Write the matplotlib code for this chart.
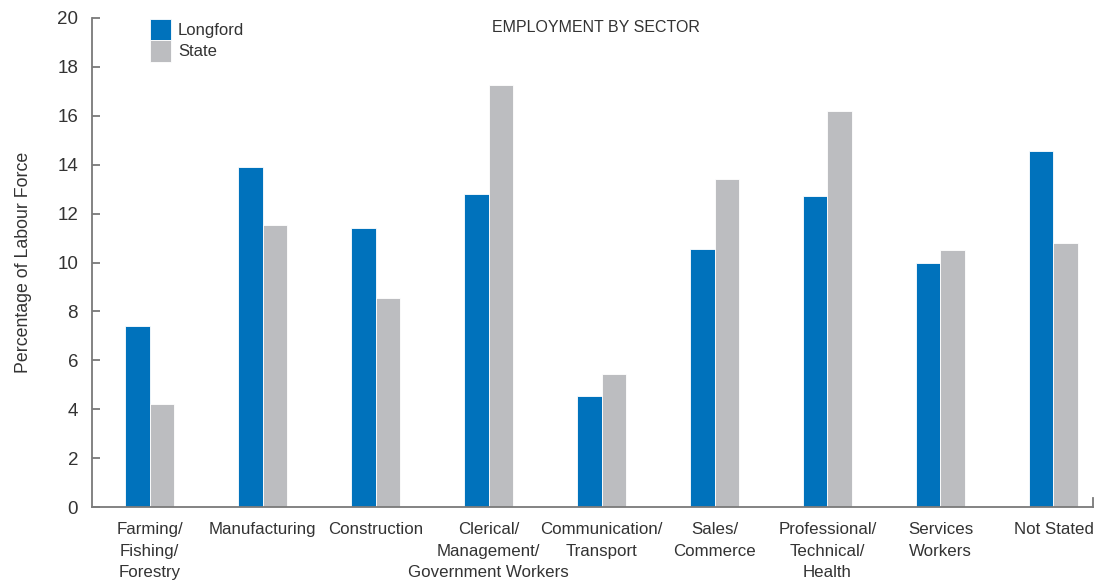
import numpy as np
import matplotlib.pyplot as plt

# Data (percentage of labour force)
sectors = ['Farming/\nFishing/\nForestry', 'Manufacturing', 'Construction',
           'Clerical/\nManagement/\nGovernment Workers', 'Communication/\nTransport',
           'Sales/\nCommerce', 'Professional/\nTechnical/\nHealth', 'Services\nWorkers',
           'Not Stated']
longford = [7.4, 13.9, 11.4, 12.8, 4.55, 10.55, 12.7, 10.0, 14.55]
state = [4.2, 11.55, 8.55, 17.25, 5.45, 13.4, 16.2, 10.5, 10.8]
yticks = list(range(0, 21, 2))

blue = '#0072BC'
grey = '#BCBDC0'
text_col = '#333333'
spine_col = '#7a7a7a'

plt.rcParams['font.family'] = ['Liberation Sans', 'DejaVu Sans']

fig = plt.figure(figsize=(10.97, 5.87), dpi=100)
ax = fig.add_axes([92 / 1097, 1 - 507 / 587, (1093 - 92) / 1097, (507 - 18) / 587])

x = np.arange(len(sectors))
w = 0.215
ax.bar(x - w / 2, longford, w, color=blue, edgecolor='white', linewidth=0.6, label='Longford')
ax.bar(x + w / 2, state, w, color=grey, edgecolor='white', linewidth=0.6, label='State')

ax.set_xlim(-0.51, 8.35)
ax.set_ylim(0, 20)
ax.set_yticks(yticks)
ax.set_xticks(x)
ax.set_xticklabels(sectors, fontsize=12.2, color=text_col, linespacing=1.55)
ax.tick_params(axis='x', length=0, pad=11)
ax.tick_params(axis='y', direction='in', length=6, width=1.3, color=spine_col,
               labelsize=13.5, labelcolor=text_col, pad=10)

ax.spines['top'].set_visible(False)
ax.spines['right'].set_bounds(0, 0.35)
for side in ['left', 'bottom', 'right']:
    ax.spines[side].set_color(spine_col)
    ax.spines[side].set_linewidth(1.3)

ax.set_ylabel('Percentage of Labour Force', fontsize=12.8, color=text_col, labelpad=18)
ax.text(0.503, 0.996, 'EMPLOYMENT BY SECTOR', transform=ax.transAxes, ha='center',
        va='top', fontsize=11.5, color=text_col)

ax.legend(loc='upper left', bbox_to_anchor=(0.051, 1.012), frameon=False, fontsize=12,
          handlelength=1.25, handleheight=1.6, labelspacing=0.0, handletextpad=0.45,
          borderaxespad=0, labelcolor=text_col)

fig.savefig('out.png', dpi=100)
